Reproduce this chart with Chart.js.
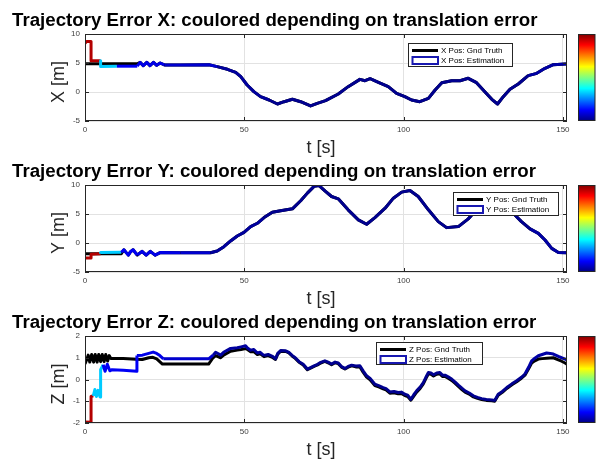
<!DOCTYPE html>
<html>
<head>
<meta charset="utf-8">
<script src="https://cdn.jsdelivr.net/npm/chart.js@4/dist/chart.umd.min.js"></script>
<style>
  html, body { margin: 0; padding: 0; background: #fff; }
  #wrap { position: relative; width: 596px; height: 461px; overflow: hidden; background: #fff; }
  #wrap canvas { position: absolute; left: 0; width: 596px; height: 159px; }
</style>
</head>
<body>
<div id="wrap">
  <canvas id="panelX" width="596" height="159" style="top:0px"></canvas>
  <canvas id="panelY" width="596" height="159" style="top:151px"></canvas>
  <canvas id="panelZ" width="596" height="159" style="top:302px"></canvas>
</div>
<script>
// ---- tick labels ----
const timeTicks = [0, 50, 100, 150];
const xyTicks = [-5, 0, 5, 10];
const zTicks = [-2, -1, 0, 1, 2];

// ---- translation error over time (m), step-wise ----
const errT = [0, 1.95, 4.95, 16.3, 24.5, 39, 56, 138];
const errM = [5.13, 1.75, 0.62, 0.55, 0.42, 0.16, 0.08, 0.2];
const ERR_MAX = 5.4;

// ---- X position ----
const tEstX = [0, 0.5, 1.9, 1.9, 4.9, 4.9, 10, 16.4, 17.3, 18.3, 19.4, 20.4, 21.5, 22.5, 23.6, 24.9, 30, 38.9,
  41.5, 44.7, 47.3, 48.9, 50.9, 53.0, 55.1, 57.8, 60.4, 62.5, 65.1, 67.7, 70.8, 72.9, 75.5, 79.5, 82.6, 86.3, 87.9, 89.5,
  92.1, 95.2, 97.8, 100.4, 102.5, 105.1, 107.8, 109.9, 112.0, 115.1, 117.7, 120.3, 122.9, 125.5, 127.7, 129.5, 131.3, 133.4,
  136.0, 139.1, 141.8, 144.4, 147.0, 150.7, 151.3];
const estX = [8.4, 8.7, 8.7, 5.4, 5.4, 4.4, 4.45, 4.45, 5.1, 4.55, 5.1, 4.55, 5.1, 4.6, 5.0, 4.66, 4.66, 4.7,
  4.37, 3.91, 3.39, 2.64, 1.21, 0.06, -0.8, -1.38, -2.07, -1.67, -1.26, -1.67, -2.41, -1.95, -1.49, -0.34, 0.92, 2.18, 1.95, 2.30,
  1.67, 0.92, -0.23, -0.8, -1.38, -1.67, -1.09, 0.34, 1.61, 1.95, 1.95, 2.36, 1.61, 0.06, -1.26, -2.07, -0.8, 0.46,
  1.38, 2.82, 3.22, 4.08, 4.71, 4.83, 4.83];
const tGtX = [0, 16.4, 17.3, 18.3, 19.4, 20.4, 21.5, 22.5, 23.6, 24.9, 30, 38.9,
  41.5, 44.7, 47.3, 48.9, 50.9, 53.0, 55.1, 57.8, 60.4, 62.5, 65.1, 67.7, 70.8, 72.9, 75.5, 79.5, 82.6, 86.3, 87.9, 89.5,
  92.1, 95.2, 97.8, 100.4, 102.5, 105.1, 107.8, 109.9, 112.0, 115.1, 117.7, 120.3, 122.9, 125.5, 127.7, 129.5, 131.3, 133.4,
  136.0, 139.1, 141.8, 144.4, 147.0, 150.7, 151.3];
const gtX = [4.85, 4.85, 5.1, 4.55, 5.1, 4.55, 5.1, 4.6, 5.0, 4.66, 4.66, 4.7,
  4.37, 3.91, 3.39, 2.64, 1.21, 0.06, -0.8, -1.38, -2.07, -1.67, -1.26, -1.67, -2.41, -1.95, -1.49, -0.34, 0.92, 2.18, 1.95, 2.30,
  1.67, 0.92, -0.23, -0.8, -1.38, -1.67, -1.09, 0.34, 1.61, 1.95, 1.95, 2.36, 1.61, 0.06, -1.26, -2.07, -0.8, 0.46,
  1.38, 2.82, 3.22, 4.08, 4.71, 4.83, 4.83];

// ---- Y position ----
const tEstY = [0, 1.9, 1.9, 4.9, 4.9, 11.4, 12.2, 13.0, 13.6, 14.3, 15.1, 16.4, 17.9, 19.2, 20.5, 22.0, 23.6, 30, 39.4,
  41.5, 43.6, 45.7, 47.8, 49.9, 52.0, 54.1, 56.2, 58.8, 61.4, 65.1, 67.7, 69.8, 71.9, 73.4, 75.4, 77.4, 79.5, 82.6, 85.8,
  88.4, 91.0, 94.2, 96.8, 99.4, 102.0, 104.6, 107.8, 110.9, 113.5, 117.2, 120.3, 122.5, 125.0, 128.0, 131.0, 134.4, 137.0,
  139.7, 142.3, 144.4, 146.5, 148.6, 151.3];
const estY = [-2.6, -2.6, -1.95, -1.85, -1.63, -1.6, -1.16, -1.7, -2.08, -1.5, -1.16, -2.08, -1.45, -2.1, -1.45, -2.1, -1.65, -1.68, -1.68,
  -1.39, -0.64, 0.35, 1.21, 1.84, 2.83, 3.4, 4.38, 5.3, 5.55, 5.89, 7.28, 8.6, 9.76, 9.93, 8.95, 8.02, 7.62, 5.72, 3.99,
  3.23, 4.38, 6.0, 7.73, 8.77, 9.06, 8.02, 5.72, 3.69, 2.65, 2.83, 4.16, 5.5, 6.6, 6.9, 6.2, 5.13, 3.69,
  2.43, 1.66, 0.52, -0.93, -1.63, -1.7];
const tGtY = [0, 11.4, 12.2, 13.0, 13.6, 14.3, 15.1, 16.4, 17.9, 19.2, 20.5, 22.0, 23.6, 30, 39.4,
  41.5, 43.6, 45.7, 47.8, 49.9, 52.0, 54.1, 56.2, 58.8, 61.4, 65.1, 67.7, 69.8, 71.9, 73.4, 75.4, 77.4, 79.5, 82.6, 85.8,
  88.4, 91.0, 94.2, 96.8, 99.4, 102.0, 104.6, 107.8, 110.9, 113.5, 117.2, 120.3, 122.5, 125.0, 128.0, 131.0, 134.4, 137.0,
  139.7, 142.3, 144.4, 146.5, 148.6, 151.3];
const gtY = [-1.85, -1.85, -1.16, -1.7, -2.08, -1.5, -1.16, -2.08, -1.45, -2.1, -1.45, -2.1, -1.65, -1.68, -1.68,
  -1.39, -0.64, 0.35, 1.21, 1.84, 2.83, 3.4, 4.38, 5.3, 5.55, 5.89, 7.28, 8.6, 9.76, 9.93, 8.95, 8.02, 7.62, 5.72, 3.99,
  3.23, 4.38, 6.0, 7.73, 8.77, 9.06, 8.02, 5.72, 3.69, 2.65, 2.83, 4.16, 5.5, 6.6, 6.9, 6.2, 5.13, 3.69,
  2.43, 1.66, 0.52, -0.93, -1.63, -1.7];

// ---- Z position ----
const tEstZ = [0, 1.9, 1.9, 2.6, 3.1, 3.6, 4.1, 4.7, 4.9, 4.9, 5.7, 6.3, 7.0, 7.8, 8.5, 12, 16.2, 16.3, 18, 20, 21.4, 22.5,
  23.5, 24.6, 30, 38.8, 40.2, 41.0, 42.6, 43.5, 45.7, 47.8, 49.0, 50.4, 51.0, 52.0, 53.0, 54.1, 55.0, 56.2, 57.5, 59.0,
  59.8, 60.5, 61.4, 63.0, 64.0, 65.1, 66.0, 67.2, 68.5, 69.8, 70.8, 71.9, 73.0, 74.0, 75.3, 76.3, 77.4, 78.5, 79.5, 80.5,
  81.6, 82.6, 83.7, 85.0, 86.3, 87.3, 88.4, 89.5, 91.0, 92.2, 93.6, 94.5, 95.7, 97.0, 98.3, 99.3, 100.4, 101.3, 102.3,
  103.2, 104.1, 105.2, 106.2, 107.0, 107.8, 108.6, 109.4, 110.4, 111.4, 112.2, 113.0, 114.0, 115.1, 116.2, 117.2, 118.3,
  119.3, 120.6, 121.9, 123.2, 124.5, 126.0, 127.7, 128.6, 129.7, 131.0, 132.4, 134.0, 135.5, 137.0, 138.1, 139.2, 140.2,
  141.2, 142.3, 143.5, 144.9, 146.0, 147.0, 148.6, 149.6, 150.7, 151.3];
const estZ = [-1.95, -1.97, -0.78, -0.75, -0.46, -0.78, -0.5, -0.8, -0.8, 0.45, 0.68, 0.38, 0.7, 0.4, 0.45, 0.42, 0.38, 1.1,
  1.12, 1.2, 1.26, 1.2, 1.1, 0.95, 0.95, 0.95, 1.12, 1.25, 1.12, 1.25, 1.43, 1.46, 1.5, 1.55, 1.45, 1.35, 1.38, 1.22, 1.25,
  1.1, 1.15, 1.05, 0.95, 1.2, 1.33, 1.32, 1.25, 1.1, 1.0, 0.82, 0.7, 0.48, 0.55, 0.63, 0.7, 0.79, 0.86, 0.8, 0.71, 0.8,
  0.76, 0.6, 0.51, 0.6, 0.66, 0.62, 0.63, 0.4, 0.17, 0.05, -0.22, -0.28, -0.37, -0.42, -0.57, -0.55, -0.6, -0.58, -0.68,
  -0.72, -0.91, -0.7, -0.52, -0.35, -0.14, 0.1, 0.32, 0.3, 0.22, 0.3, 0.32, 0.2, 0.2, 0.12, 0.02, -0.12, -0.26, -0.4,
  -0.52, -0.62, -0.75, -0.82, -0.88, -0.92, -0.94, -0.96, -0.68, -0.55, -0.37, -0.2, -0.06, 0.1, 0.25, 0.55, 0.86, 0.98,
  1.09, 1.15, 1.22, 1.2, 1.17, 1.06, 1.0, 0.94, 0.9];
const tGtZ = [0, 0.5, 1.0, 1.5, 2.1, 2.7, 3.2, 3.8, 4.3, 4.9, 5.4, 6.0, 6.5, 7.1, 7.6, 8.1, 12, 16, 18, 20, 21.3, 22.5,
  24.3, 30, 38.8, 40.2, 41.0, 42.6, 43.5, 45.7, 47.8, 49.0, 50.4, 51.0, 52.0, 53.0, 54.1, 55.0, 56.2, 57.5, 59.0,
  59.8, 60.5, 61.4, 63.0, 64.0, 65.1, 66.0, 67.2, 68.5, 69.8, 70.8, 71.9, 73.0, 74.0, 75.3, 76.3, 77.4, 78.5, 79.5, 80.5,
  81.6, 82.6, 83.7, 85.0, 86.3, 87.3, 88.4, 89.5, 91.0, 92.2, 93.6, 94.5, 95.7, 97.0, 98.3, 99.3, 100.4, 101.3, 102.3,
  103.2, 104.1, 105.2, 106.2, 107.0, 107.8, 108.6, 109.4, 110.4, 111.4, 112.2, 113.0, 114.0, 115.1, 116.2, 117.2, 118.3,
  119.3, 120.6, 121.9, 123.2, 124.5, 126.0, 127.7, 128.6, 129.7, 131.0, 132.4, 134.0, 135.5, 137.0, 138.1, 139.2, 140.2,
  141.2, 142.3, 143.5, 144.9, 146.0, 147.0, 148.6, 149.6, 150.7, 151.3];
const gtZ = [0.72, 0.9, 1.12, 0.8, 1.15, 0.8, 1.15, 0.8, 1.15, 0.82, 1.15, 0.82, 1.15, 0.85, 1.1, 0.97, 0.97, 0.93, 0.92,
  1.0, 1.02, 0.95, 0.71, 0.71, 0.71,
  1.0, 1.1, 1.0, 1.12, 1.3, 1.35, 1.38, 1.42, 1.38, 1.28, 1.28, 1.15, 1.18, 1.05, 1.1, 1.0, 0.92, 1.16, 1.3, 1.29,
  1.22, 1.07, 0.97, 0.79, 0.67, 0.45, 0.52, 0.6, 0.67, 0.76, 0.83, 0.77, 0.68, 0.77, 0.73, 0.57, 0.48, 0.57, 0.63, 0.58,
  0.58, 0.34, 0.11, -0.01, -0.28, -0.34, -0.43, -0.48, -0.63, -0.61, -0.66, -0.64, -0.74, -0.78, -0.95, -0.76, -0.58,
  -0.41, -0.2, 0.04, 0.26, 0.24, 0.16, 0.24, 0.26, 0.14, 0.14, 0.06, -0.04, -0.18, -0.32, -0.46, -0.58, -0.67, -0.8,
  -0.87, -0.92, -0.96, -0.98, -1.0, -0.72, -0.59, -0.41, -0.24, -0.1, 0.06, 0.2, 0.48, 0.76, 0.86, 0.94, 0.96, 0.98,
  0.99, 1.0, 0.9, 0.84, 0.76, 0.7];

const FONT = '"Liberation Sans", Arial, Helvetica, sans-serif';
const T_MAX = 151.3;

// jet colormap, v in [0,1]
function jet(v) {
  const c = x => Math.round(255 * Math.max(0, Math.min(1, x)));
  return `rgb(${c(1.5 - Math.abs(4 * v - 3))},${c(1.5 - Math.abs(4 * v - 2))},${c(1.5 - Math.abs(4 * v - 1))})`;
}
function errAt(t) {
  let e = errM[0];
  for (let i = 0; i < errT.length; i++) if (errT[i] <= t) e = errM[i];
  return e;
}
const pts = (ts, vs) => ts.map((t, i) => ({ x: t, y: vs[i] }));

// frame, inner ticks, axis labels, legend box and colour bar
const decor = {
  id: 'decor',
  afterDraw(chart, args, o) {
    const { ctx, chartArea: a, scales } = chart;
    const L = Math.round(a.left), R = Math.round(a.right), T = Math.round(a.top), B = Math.round(a.bottom);
    ctx.save();
    ctx.strokeStyle = '#262626';
    ctx.lineWidth = 1;
    ctx.strokeRect(L + 0.5, T + 0.5, R - L - 1, B - T - 1);
    ctx.beginPath();
    scales.x.ticks.forEach(tk => {
      const px = Math.round(scales.x.getPixelForValue(tk.value)) + 0.5;
      ctx.moveTo(px, B); ctx.lineTo(px, B - 4);
      ctx.moveTo(px, T); ctx.lineTo(px, T + 4);
    });
    scales.y.ticks.forEach(tk => {
      const py = Math.round(scales.y.getPixelForValue(tk.value)) + 0.5;
      ctx.moveTo(L, py); ctx.lineTo(L + 4, py);
      ctx.moveTo(R, py); ctx.lineTo(R - 4, py);
    });
    ctx.stroke();

    // axis labels
    ctx.fillStyle = '#262626';
    ctx.font = `18px ${FONT}`;
    ctx.textAlign = 'center';
    ctx.textBaseline = 'alphabetic';
    ctx.fillText(o.xLabel, 321, 152.5);
    ctx.save();
    ctx.translate(63.5, 82);
    ctx.rotate(-Math.PI / 2);
    ctx.fillText(o.yLabel, 0, 0);
    ctx.restore();

    // legend
    const g = o.legend;
    ctx.fillStyle = '#fff';
    ctx.fillRect(g.x, g.y, g.w, g.h);
    ctx.strokeStyle = '#262626';
    ctx.lineWidth = 1;
    ctx.strokeRect(g.x + 0.5, g.y + 0.5, g.w, g.h);
    ctx.strokeStyle = '#000';
    ctx.lineWidth = 3;
    ctx.beginPath();
    ctx.moveTo(g.x + 4, g.y + 7.5); ctx.lineTo(g.x + 30, g.y + 7.5);
    ctx.stroke();
    ctx.strokeStyle = 'rgb(24,24,176)';
    ctx.lineWidth = 2;
    ctx.strokeRect(g.x + 4.5, g.y + 14, 25.5, 7);
    ctx.fillStyle = '#000';
    ctx.font = `8px ${FONT}`;
    ctx.textAlign = 'left';
    ctx.textBaseline = 'middle';
    ctx.fillText(g.names[0], g.x + 33, g.y + 7.5);
    ctx.fillText(g.names[1], g.x + 33, g.y + 17.5);

    // colour bar
    const cx0 = 578.5, cx1 = 595;
    const grad = ctx.createLinearGradient(0, B, 0, T);
    for (let i = 0; i <= 32; i++) grad.addColorStop(i / 32, jet(i / 32));
    ctx.fillStyle = grad;
    ctx.fillRect(cx0, T, cx1 - cx0, B - T);
    ctx.strokeStyle = '#262626';
    ctx.lineWidth = 1;
    ctx.strokeRect(cx0, T + 0.5, cx1 - cx0, B - T - 1);
    ctx.restore();
  }
};

function makePanel(id, title, yLabel, yMin, yMax, yTicks, gt, est, names, legend) {
  return new Chart(document.getElementById(id), {
    type: 'line',
    data: {
      datasets: [
        {
          label: names[1], data: est, order: 0,
          borderWidth: 3, pointRadius: 0, tension: 0, borderJoinStyle: 'round',
          borderColor: 'rgb(0,0,150)',
          segment: { borderColor: c => jet(errAt(c.p0.parsed.x) / ERR_MAX) }
        },
        {
          label: names[0], data: gt, order: 1,
          borderWidth: 3, pointRadius: 0, tension: 0, borderJoinStyle: 'round',
          borderColor: '#000'
        }
      ]
    },
    options: {
      responsive: false,
      animation: false,
      devicePixelRatio: 1,
      layout: { padding: { left: 12, right: 29, top: 0, bottom: 0 } },
      plugins: {
        legend: { display: false },
        tooltip: { enabled: false },
        title: {
          display: true, text: title, align: 'start', color: '#000',
          font: { family: FONT, size: 18.7, weight: 'bold', lineHeight: 1.2 },
          padding: { top: 9.5, bottom: 2.06 }
        },
        decor: { xLabel: 't [s]', yLabel, legend: Object.assign({ names }, legend) }
      },
      scales: {
        x: {
          type: 'linear', min: 0, max: T_MAX,
          afterBuildTicks: s => { s.ticks = timeTicks.map(v => ({ value: v })); },
          afterFit: s => { s.height = 38; },
          ticks: { font: { family: FONT, size: 8 }, color: '#404040', padding: 4, maxRotation: 0, autoSkip: false },
          grid: { color: '#e2e2e2', drawTicks: false },
          border: { display: false }
        },
        y: {
          type: 'linear', min: yMin, max: yMax,
          afterBuildTicks: s => { s.ticks = yTicks.map(v => ({ value: v })); },
          afterFit: s => { s.width = 73; },
          ticks: { font: { family: FONT, size: 8 }, color: '#404040', padding: 5, autoSkip: false },
          grid: { color: '#e2e2e2', drawTicks: false },
          border: { display: false }
        }
      }
    },
    plugins: [decor]
  });
}

makePanel('panelX', 'Trajectory Error X: coulored depending on translation error', 'X [m]', -5, 10, xyTicks,
  pts(tGtX, gtX), pts(tEstX, estX), ['X Pos: Gnd Truth', 'X Pos: Estimation'], { x: 408, y: 43, w: 104, h: 23 });
makePanel('panelY', 'Trajectory Error Y: coulored depending on translation error', 'Y [m]', -5, 10, xyTicks,
  pts(tGtY, gtY), pts(tEstY, estY), ['Y Pos: Gnd Truth', 'Y Pos: Estimation'], { x: 453, y: 41, w: 105, h: 23 });
makePanel('panelZ', 'Trajectory Error Z: coulored depending on translation error', 'Z [m]', -2, 2, zTicks,
  pts(tGtZ, gtZ), pts(tEstZ, estZ), ['Z Pos: Gnd Truth', 'Z Pos: Estimation'], { x: 376, y: 40, w: 106, h: 22 });
</script>
</body>
</html>
